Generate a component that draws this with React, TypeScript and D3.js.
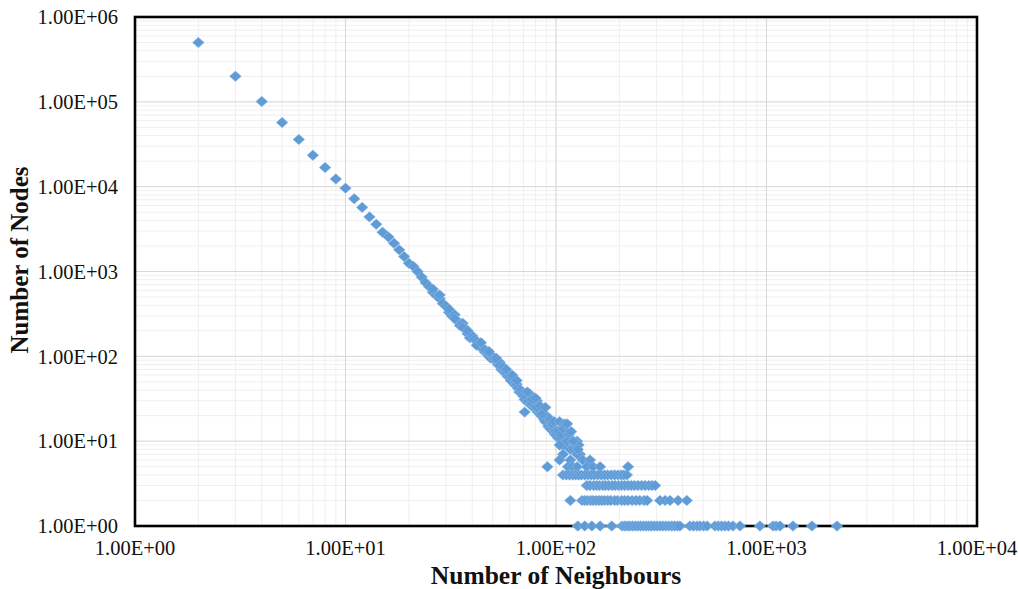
import * as d3 from "d3";

// main curve: one reading per neighbour count
const headNeighbours = [
  2, 3, 4, 5, 6, 7, 8, 9, 10, 11, 12, 13, 14, 15, 16, 17, 18, 19, 20, 21, 22, 23, 24, 25,
  26, 27, 28, 29, 30, 31, 32, 33, 34, 35, 36, 37, 38, 39, 40, 41, 42, 43, 44, 45, 46, 47,
  48, 49, 50, 51, 52, 53, 54, 55, 56, 57, 58, 59, 60, 61, 62, 63, 64, 65, 66, 67, 68, 69,
  70, 71, 72, 73, 74, 75, 76, 77, 78, 79, 80, 81, 82, 83, 84, 85, 86, 87, 88, 89, 90, 92,
  93, 94, 95, 96, 97, 98, 99, 100, 101, 102, 103, 105, 106, 107, 109,
];
const headNodes = [
  500000, 200000, 101000, 57000, 36000, 23500, 16800, 12300, 9600, 7200, 5700, 4400, 3600,
  2900, 2550, 2150, 1800, 1500, 1250, 1150, 1000, 860, 740, 660, 570, 520, 480, 420, 390,
  330, 300, 310, 260, 230, 245, 215, 185, 165, 175, 160, 150, 140, 130, 120, 112, 110, 100,
  95, 100, 92, 88, 80, 85, 70, 68, 72, 62, 58, 60, 52, 56, 48, 46, 47, 42, 38, 40, 36, 34,
  31, 33, 29, 30, 36, 27, 28, 25, 26, 24, 30, 22, 23, 21, 20, 22, 19, 18, 17, 20, 15, 17,
  14, 16, 15, 13, 14, 12, 13, 12, 11, 13, 11, 12, 9, 9,
];

// scattered readings around the knee
const kneeNeighbours = [
  26, 28, 31, 33, 36, 38, 42, 44, 46, 48, 52, 54, 56, 58, 62, 65, 71, 73, 77, 80, 81, 84,
  86, 89, 94, 96, 98, 104, 108, 110, 113, 115, 118, 104, 113, 117, 120, 126, 130, 108, 122,
  128, 104, 117, 126, 134, 145, 121, 127,
];
const kneeNodes = [
  620, 530, 360, 280, 220, 200, 135, 145, 120, 114, 95, 78, 75, 70, 60, 52, 22, 38, 31, 32,
  25, 26, 21, 25, 18, 16, 17, 17, 14, 16, 16, 12, 13, 9, 10, 8, 10, 10, 7, 7, 8, 9, 6, 6, 7,
  6, 6, 10, 8,
];

// flat rows at small node counts
const rowFive = [91, 114, 120, 126, 140, 150, 162, 220];
const rowFour = [
  108, 112, 116, 120, 124, 128, 132, 137, 142, 147, 152, 158, 164, 170, 176, 183, 190, 197,
  204, 210, 217,
];
const rowThree = [
  140, 145, 151, 156, 161, 167, 172, 178, 185, 191, 198, 205, 212, 220, 228, 236, 245, 255,
  265, 276, 286, 296,
];
const rowTwo = [
  117, 133, 137, 141, 146, 150, 155, 160, 165, 170, 176, 182, 190, 196, 205, 212, 220, 230,
  240, 250, 262, 271, 312, 330, 348, 380, 418,
];
const rowOne = [
  127, 137, 148, 162, 184, 206, 212, 218, 224, 231, 238, 245, 252, 260, 268, 276, 284, 293,
  302, 312, 322, 333, 344, 355, 366, 377, 388, 433, 450, 468, 483, 503, 522, 569, 590, 612,
  635, 660, 693, 748, 931, 1074, 1110, 1159, 1336, 1644, 2162,
];

const xTicks = [1, 10, 100, 1000, 10000];
const yTicks = [1, 10, 100, 1000, 10000, 100000, 1000000];

const W = 1018;
const H = 589;
const margin = { top: 17, right: 41, bottom: 63, left: 135 };

const sci = (v: number) => {
  const e = Math.round(Math.log10(v));
  return `1.00E+${String(e).padStart(2, "0")}`;
};

export default function App() {
  const x = d3
    .scaleLog()
    .domain([1, 10000])
    .range([margin.left, W - margin.right]);
  const y = d3
    .scaleLog()
    .domain([1, 1000000])
    .range([H - margin.bottom, margin.top]);

  const points: [number, number][] = [];
  headNeighbours.forEach((k, i) => points.push([k, headNodes[i]]));
  kneeNeighbours.forEach((k, i) => points.push([k, kneeNodes[i]]));
  rowFive.forEach((k) => points.push([k, 5]));
  rowFour.forEach((k) => points.push([k, 4]));
  rowThree.forEach((k) => points.push([k, 3]));
  rowTwo.forEach((k) => points.push([k, 2]));
  rowOne.forEach((k) => points.push([k, 1]));

  const x0 = margin.left;
  const x1 = W - margin.right;
  const y0 = margin.top;
  const y1 = H - margin.bottom;
  const font = "'Liberation Serif', 'Times New Roman', serif";

  return (
    <svg
      width={W}
      height={H}
      style={{ position: "absolute", left: 0, top: 0, background: "#fff" }}
    >
      {/* minor grid */}
      {x.ticks().map((t) => (
        <line key={"mx" + t} x1={x(t)} x2={x(t)} y1={y0} y2={y1} stroke="#efefef" />
      ))}
      {y.ticks().map((t) => (
        <line key={"my" + t} x1={x0} x2={x1} y1={y(t)} y2={y(t)} stroke="#efefef" />
      ))}
      {/* major grid */}
      {xTicks.map((t) => (
        <line key={"gx" + t} x1={x(t)} x2={x(t)} y1={y0} y2={y1} stroke="#d9d9d9" />
      ))}
      {yTicks.map((t) => (
        <line key={"gy" + t} x1={x0} x2={x1} y1={y(t)} y2={y(t)} stroke="#d9d9d9" />
      ))}

      <rect
        x={x0}
        y={y0}
        width={x1 - x0}
        height={y1 - y0}
        fill="none"
        stroke="#000"
        strokeWidth={2.6}
      />

      {points.map(([k, n], i) => (
        <path
          key={i}
          transform={`translate(${x(k)},${y(n)})`}
          d="M0,-5.2L5.8,0L0,5.2L-5.8,0Z"
          fill="#5f9bd6"
          stroke="#8ab7e3"
          strokeWidth={0.6}
        />
      ))}

      {xTicks.map((t) => (
        <text
          key={"tx" + t}
          x={x(t)}
          y={y1 + 29}
          textAnchor="middle"
          fontFamily={font}
          fontSize={20.5}
          fill="#111"
        >
          {sci(t)}
        </text>
      ))}
      {yTicks.map((t) => (
        <text
          key={"ty" + t}
          x={x0 - 17}
          y={y(t)}
          dy="0.35em"
          textAnchor="end"
          fontFamily={font}
          fontSize={20.5}
          fill="#111"
        >
          {sci(t)}
        </text>
      ))}

      <text
        x={(x0 + x1) / 2}
        y={584}
        textAnchor="middle"
        fontFamily={font}
        fontWeight="bold"
        fontSize={25.5}
        fill="#111"
      >
        Number of Neighbours
      </text>
      <text
        transform={`translate(28,260) rotate(-90)`}
        textAnchor="middle"
        fontFamily={font}
        fontWeight="bold"
        fontSize={25}
        fill="#111"
      >
        Number of Nodes
      </text>
    </svg>
  );
}
